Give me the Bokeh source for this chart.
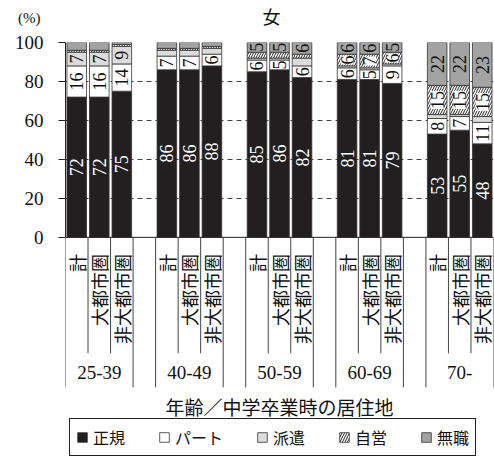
import math
from bokeh.plotting import figure
from bokeh.layouts import column
from bokeh.models import FactorRange, Range1d, FixedTicker, ColumnDataSource, Label, Span
from bokeh.core.properties import value
from bokeh.embed import file_html
from bokeh.resources import INLINE

groups = ["25-39", "40-49", "50-59", "60-69", "70-"]
places = ["計", "大都市圏", "非大都市圏"]
series = ["正規", "パート", "派遣", "自営", "無職"]

seiki   = [72, 72, 75, 86, 86, 88, 85, 86, 82, 81, 81, 79, 53, 55, 48]
part    = [16, 16, 14, 7, 7, 6, 6, 5, 6, 6, 5, 9, 8, 7, 11]
haken   = [7, 7, 9, 3, 3, 3, 1, 1, 4, 1, 1, 1, 2, 1, 3]
jiei    = [1, 1, 1, 1, 1, 1, 3, 3, 2, 6, 7, 6, 15, 15, 15]
mushoku = [4, 4, 1, 3, 3, 2, 5, 5, 6, 6, 6, 5, 22, 22, 23]
y_ticks = [0, 20, 40, 60, 80, 100]

title_text = "女"
unit_text = "(%)"
x_title = "年齢／中学卒業時の居住地"

colors = ["#231f20", "#ffffff", "#dcdcdc", "#ffffff", "#a3a3a3"]
hatches = [" ", " ", " ", "/", " "]

JP = "Noto Sans CJK JP"
NUM = "Liberation Serif"
INK = "#111111"

factors = [(g, s) for g in groups for s in places]
values = [seiki, part, haken, jiei, mushoku]

# ---- header strip: unit as the strip's own axis label, title as text ----
top = figure(width=494, height=30, x_range=Range1d(0, 428), y_range=Range1d(0, 30),
             output_backend="svg", toolbar_location=None, x_axis_location=None,
             min_border_left=65, min_border_right=1, min_border_top=0, min_border_bottom=0)
top.outline_line_color = None
top.xgrid.visible = False
top.ygrid.visible = False
ta = top.yaxis[0]
ta.ticker = FixedTicker(ticks=[13])
ta.major_label_overrides = {13: unit_text}
ta.axis_line_color = None
ta.major_tick_line_color = None
ta.minor_tick_line_color = None
ta.major_tick_out = 0
ta.major_tick_in = 0
ta.major_label_standoff = 25
ta.major_label_text_font = NUM
ta.major_label_text_font_size = "15px"
ta.major_label_text_color = INK
top.text(x=[206], y=[15], text=[title_text], text_align="center", text_baseline="middle",
         text_font=value(JP), text_font_size="18px", text_color=INK)

# ---- main chart ----
src = ColumnDataSource(dict(x=factors, **{name: vals for name, vals in zip(series, values)}))

p = figure(x_range=FactorRange(*factors, factor_padding=0, group_padding=1.0, range_padding=0),
           y_range=Range1d(-113, 100), width=494, height=427,
           output_backend="svg", toolbar_location=None, x_axis_location=None,
           min_border_left=65, min_border_right=1, min_border_top=12, min_border_bottom=0)
p.outline_line_color = None
p.background_fill_color = "white"

p.xgrid.visible = False
p.ygrid.ticker = FixedTicker(ticks=[t for t in y_ticks if 0 < t < 100])
p.ygrid.grid_line_color = "#444444"
p.ygrid.grid_line_dash = "5 4"
p.ygrid.grid_line_width = 1

ya = p.yaxis[0]
ya.ticker = FixedTicker(ticks=y_ticks)
ya.bounds = (0, 100)
ya.axis_line_color = "#222222"
ya.major_tick_line_color = "#222222"
ya.major_tick_out = 7
ya.major_tick_in = 0
ya.minor_tick_out = 0
ya.minor_tick_in = 0
ya.major_label_text_font = NUM
ya.major_label_text_font_size = "19px"
ya.major_label_text_color = INK
ya.major_label_standoff = 15

p.vbar_stack(series, x="x", width=0.87, source=src, fill_color=colors,
             line_color="#333333", line_width=0.8, hatch_pattern=hatches,
             hatch_color=INK, hatch_scale=5, hatch_weight=0.9,
             legend_label=series)

p.add_layout(Span(location=0, dimension="width", line_color="#222222", line_width=1))

# value labels
lx, ly, lt, lc = [], [], [], []
hx, hy, ht = [], [], []
for i, f in enumerate(factors):
    bottom = 0
    for k, vals in enumerate(values):
        v = vals[i]
        if v >= 5:
            if hatches[k] != " ":
                hx.append(f); hy.append(bottom + v / 2); ht.append(str(v))
            else:
                lx.append(f); ly.append(bottom + v / 2); lt.append(str(v))
                lc.append("white" if k == 0 else INK)
        bottom += v

p.text(x="x", y="y", text="t", source=ColumnDataSource(dict(x=lx, y=ly, t=lt, c=lc)),
       text_color="c", angle=math.pi / 2, text_align="center", text_baseline="middle",
       text_font=value(NUM), text_font_size="18px")
p.text(x="x", y="y", text="t", source=ColumnDataSource(dict(x=hx, y=hy, t=ht)),
       text_color=INK, angle=math.pi / 2, text_align="center", text_baseline="middle",
       text_font=value(NUM), text_font_size="18px", background_fill_color="white", padding=0)

# category table under the axis
inner_x, outer_x = [], []
for g in groups:
    outer_x.append((g, places[0], -0.5))
    outer_x.append((g, places[-1], 0.5))
    for s in places[1:]:
        inner_x.append((g, s, -0.5))
p.segment(x0=inner_x, x1=inner_x, y0=[0] * len(inner_x), y1=[-59.5] * len(inner_x),
          line_color="#444444", line_width=1)
p.segment(x0=outer_x, x1=outer_x, y0=[0] * len(outer_x), y1=[-77] * len(outer_x),
          line_color="#444444", line_width=1)

p.text(x=factors, y=[-8.5] * len(factors), text=[s for g, s in factors],
       angle=math.pi / 2, text_align="right", text_baseline="middle",
       text_font=value(JP), text_font_size="18px", text_color=INK)
p.text(x=groups, y=[-69.5] * len(groups), text=groups, text_align="center",
       text_baseline="middle", text_font=value(NUM), text_font_size="19px", text_color=INK)

p.add_layout(Label(x=214, x_units="screen", y=-87, text=x_title,
                   text_align="center", text_baseline="middle", text_font=JP,
                   text_font_size="19px", text_color=INK))

lg = p.legend[0]
lg.orientation = "horizontal"
lg.location = (4, 1)
lg.label_text_font = JP
lg.label_text_font_size = "16px"
lg.label_text_color = INK
lg.glyph_width = 12
lg.glyph_height = 12
lg.label_standoff = 5
lg.spacing = 33
lg.padding = 6
lg.margin = 0
lg.label_height = 18
lg.border_line_color = "#222222"
lg.border_line_alpha = 1.0
lg.border_line_width = 1.2
lg.background_fill_alpha = 1.0

layout = column(top, p, spacing=0)
open("out.html", "w").write(file_html(layout, INLINE))
